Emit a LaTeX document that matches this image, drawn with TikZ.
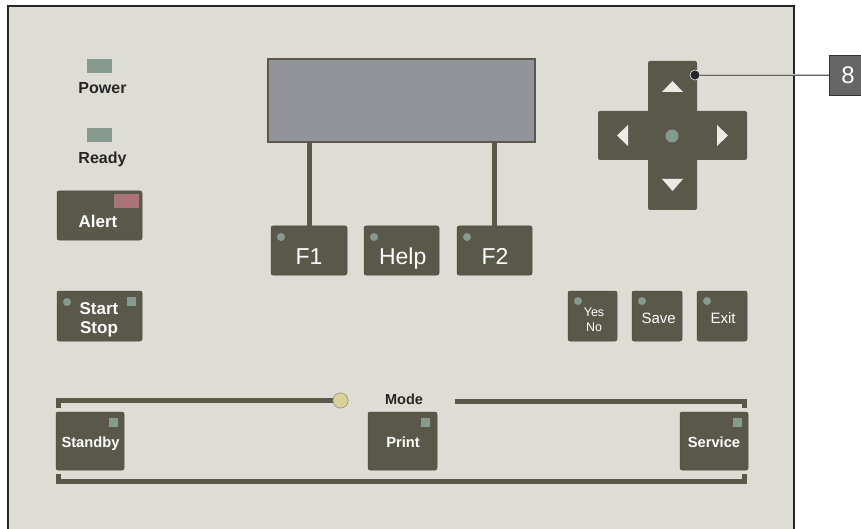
\documentclass[tikz,border=0pt]{standalone}
\usepackage{fontspec}
\setmainfont{Liberation Sans}
\usetikzlibrary{positioning}

\definecolor{panel}{RGB}{221,221,213}
\definecolor{knob}{RGB}{90,88,74}
\definecolor{led}{RGB}{135,154,143}
\definecolor{ledred}{RGB}{168,116,119}
\definecolor{lcdgray}{RGB}{147,148,153}
\definecolor{modeled}{RGB}{216,210,154}
\definecolor{tagbox}{RGB}{102,102,102}

\tikzset{
  key/.style={fill=knob, draw=knob!85!black, line width=0.5pt, rounded corners=2pt, inner sep=0pt},
  dotled/.style={circle, fill=led, inner sep=0pt, minimum size=8pt},
  sqled/.style={fill=led, inner sep=0pt, minimum size=9pt},
  keytxt/.style={text=white, anchor=base, inner sep=0pt},
  paneltxt/.style={text=black!85, anchor=base, inner sep=0pt},
  bar/.style={draw=knob, line width=5pt, line join=miter},
  padarrow/.style={fill=panel!60!white},
}

\begin{document}
\begin{tikzpicture}[x=1pt,y=-1pt]
\useasboundingbox (0,0) rectangle (861,529);
% panel
\fill[white] (0,0) rectangle (861,529);
\fill[panel] (8,6) rectangle (794,540);
\draw[black!85, line width=1.2pt] (8,540) -- (8,6) -- (794,6) -- (794,540);

% status leds
\path (99.5,66) node[fill=led, minimum width=25pt, minimum height=14pt, inner sep=0pt] (pwrled) {};
\path (102.5,93.7) node[paneltxt, font=\fontsize{16}{18}\selectfont\bfseries] (pwr) {Power};
\path (99.5,135) node[fill=led, minimum width=25pt, minimum height=14pt, inner sep=0pt] (rdyled) {};
\path (102.5,163.2) node[paneltxt, font=\fontsize{16}{18}\selectfont\bfseries] (rdy) {Ready};

% alert
\path (99.5,215.5) node[key, minimum width=85pt, minimum height=49pt] (alert) {};
\path (126.5,201) node[fill=ledred, minimum width=25pt, minimum height=14pt, inner sep=0pt] (alertled) {};
\path (98,227.6) node[keytxt, font=\fontsize{17}{19}\selectfont\bfseries] (alerttxt) {Alert};

% display and function keys
\path (401.5,100.5) node[draw=knob, line width=2.5pt, fill=lcdgray, minimum width=267pt, minimum height=83pt] (lcd) {};
\path (309,250.5) node[key, minimum width=76pt, minimum height=49pt] (f1) {};
\path (401.5,250.5) node[key, minimum width=75pt, minimum height=49pt] (help) {};
\path (494.5,250.5) node[key, minimum width=75pt, minimum height=49pt] (f2) {};
\draw[bar] (lcd.south -| f1.north) -- (f1.north);
\draw[bar] (lcd.south -| f2.north) -- (f2.north);
\path (281,237) node[dotled] (f1led) {};
\path (374,237) node[dotled] (helpled) {};
\path (467,237) node[dotled] (f2led) {};
\path (309,264.7) node[keytxt, font=\fontsize{23}{26}\selectfont] (f1txt) {F1};
\path (402.7,264.7) node[keytxt, font=\fontsize{23}{26}\selectfont] (helptxt) {Help};
\path (495,264.7) node[keytxt, font=\fontsize{23}{26}\selectfont] (f2txt) {F2};

% direction pad
\path (672.5,135.5) node[key, draw=none, minimum width=49pt, minimum height=149pt] (padv) {};
\path (672.5,135.5) node[key, draw=none, minimum width=149pt, minimum height=49pt] (padh) {};
\path (672,136) node[dotled, minimum size=13pt] (padok) {};
\fill[padarrow] (662,92) -- (683,92) -- (672.5,81) -- cycle;
\fill[padarrow] (662,179) -- (683,179) -- (672.5,191) -- cycle;
\fill[padarrow] (628,125) -- (628,146) -- (617,135.5) -- cycle;
\fill[padarrow] (717,125) -- (717,146) -- (728,135.5) -- cycle;

% callout
\path (848,75) node[fill=tagbox, draw=black!80, line width=0.5pt, minimum width=38pt, minimum height=40pt, text=white, font=\fontsize{24}{26}\selectfont] (tag8) {8};
\path (695,75) node[circle, fill=black!85, draw=white, line width=0.5pt, inner sep=0pt, minimum size=10pt] (dot8) {};
\draw[draw=black!60, double=black!25, double distance=1pt, line width=0.4pt] (dot8) -- (tag8);

% start stop
\path (99.5,316) node[key, minimum width=85pt, minimum height=50pt] (start) {};
\path (67,302) node[dotled] (startled) {};
\path (131.5,301.5) node[sqled] (startsq) {};
\path (99,314.6) node[keytxt, font=\fontsize{17}{19}\selectfont\bfseries] (starttxt) {Start};
\path (99,333.6) node[keytxt, font=\fontsize{17}{19}\selectfont\bfseries] (stoptxt) {Stop};

% yes no, save, exit
\path (592.5,316) node[key, minimum width=49pt, minimum height=50pt] (yes) {};
\path (657,316) node[key, minimum width=50pt, minimum height=50pt] (save) {};
\path (722,316) node[key, minimum width=50pt, minimum height=50pt] (exit) {};
\path (578,301) node[dotled] (yesled) {};
\path (642,301) node[dotled] (saveled) {};
\path (707,301) node[dotled] (exitled) {};
\path (594,316.5) node[keytxt, font=\fontsize{12.5}{14}\selectfont] (yestxt) {Yes};
\path (594,331.5) node[keytxt, font=\fontsize{12.5}{14}\selectfont] (notxt) {No};
\path (658.7,323.4) node[keytxt, font=\fontsize{15}{17}\selectfont] (savetxt) {Save};
\path (723,323.4) node[keytxt, font=\fontsize{15}{17}\selectfont] (exittxt) {Exit};

% mode selector
\path (340.5,400.5) node[circle, fill=modeled, draw=modeled!75!black, line width=0.6pt, inner sep=0pt, minimum size=15pt] (modeknob) {};
\draw[bar] (58.5,408) |- (modeknob.west);
\path (modeknob) node[circle, fill=modeled, draw=modeled!75!black, line width=0.6pt, inner sep=0pt, minimum size=15pt] {};
\path (404,404.3) node[paneltxt, font=\fontsize{14.5}{16}\selectfont\bfseries] (mode) {Mode};
\draw[bar] (455,401) -| (744,408);
\draw[bar] (58.5,474) |- (401,481.5) -| (744,474);

\path (90,441) node[key, minimum width=68pt, minimum height=58pt] (standby) {};
\path (402.5,441) node[key, minimum width=69pt, minimum height=58pt] (print) {};
\path (714,441) node[key, minimum width=68pt, minimum height=58pt] (service) {};
\path (113.5,422.5) node[sqled] (standbysq) {};
\path (425.5,422.5) node[sqled] (printsq) {};
\path (737.5,422.5) node[sqled] (servicesq) {};
\path (90.5,447.3) node[keytxt, font=\fontsize{14.7}{16}\selectfont\bfseries] (standbytxt) {Standby};
\path (403,447.3) node[keytxt, font=\fontsize{14.7}{16}\selectfont\bfseries] (printtxt) {Print};
\path (714,447.3) node[keytxt, font=\fontsize{14.7}{16}\selectfont\bfseries] (servicetxt) {Service};
\end{tikzpicture}
\end{document}
